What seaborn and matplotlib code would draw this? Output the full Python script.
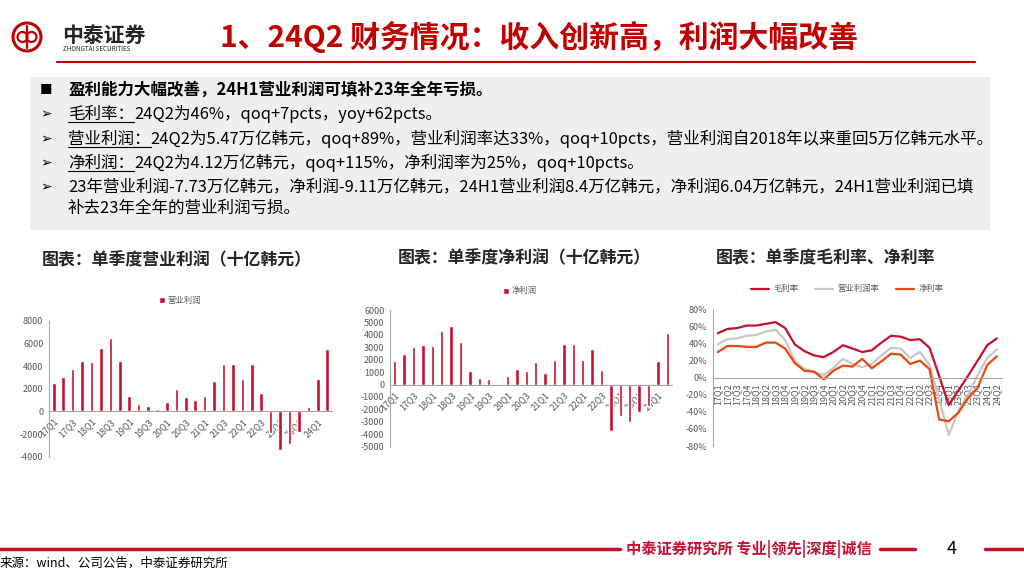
# 24Q2 财务情况 幻灯片：单季度营业利润 / 净利润 / 利润率
import pandas as pd
import matplotlib
matplotlib.use('Agg')
import matplotlib.pyplot as plt
import seaborn as sns
from matplotlib.patches import Rectangle, Ellipse
from matplotlib.lines import Line2D

# 数据（十亿韩元 / %）
quarters = ['17Q1', '17Q2', '17Q3', '17Q4', '18Q1', '18Q2', '18Q3', '18Q4',
            '19Q1', '19Q2', '19Q3', '19Q4', '20Q1', '20Q2', '20Q3', '20Q4',
            '21Q1', '21Q2', '21Q3', '21Q4', '22Q1', '22Q2', '22Q3', '22Q4',
            '23Q1', '23Q2', '23Q3', '23Q4', '24Q1', '24Q2']
op_profit = [2470, 3050, 3730, 4470, 4360, 5570, 6470, 4430,
             1360, 640, 470, 240, 800, 1950, 1300, 970,
             1340, 2670, 4150, 4220, 2860, 4190, 1660, -1890,
             -3400, -2880, -1800, 350, 2890, 5470]
net_profit = [1900, 2480, 3050, 3220, 3120, 4350, 4700, 3400,
              1110, 540, 480, -120, 650, 1290, 1080, 1780,
              970, 2000, 3300, 3300, 1980, 2900, 1140, -3700,
              -2560, -2980, -2170, -1720, 1900, 4120]
gross_margin = [52, 57, 58, 61, 61, 63, 65, 58, 39, 31, 26, 24, 30, 38, 34, 30,
                32, 41, 49, 48, 44, 45, 35, 2, -32, -15, 2, 20, 38, 46]
op_margin = [39, 45, 46, 49, 50, 54, 56, 44, 20, 10, 7, 3, 11, 22, 16, 12,
             16, 26, 35, 34, 23, 30, 15, -25, -67, -39, -20, 3, 23, 33]
net_margin = [30, 37, 37, 36, 36, 41, 41, 34, 17, 8, 7, -2, 8, 14, 13, 22,
              11, 19, 28, 27, 16, 20, 10, -49, -51, -41, -24, -12, 15, 25]

RED = '#C8102E'
TITLE_RED = '#C00000'
GRAY_TXT = '#595959'
AX_GRAY = '#A6A6A6'

sns.set_theme(style='white')
plt.rcParams['font.family'] = ['Noto Sans CJK SC', 'DejaVu Sans']
plt.rcParams['axes.unicode_minus'] = False

W, H = 1024, 576
fig = plt.figure(figsize=(10.24, 5.76), dpi=100)


def P(x, y):
    return x / W, 1 - y / H


def ax_box(l, t, r, b):
    return [l / W, 1 - b / H, (r - l) / W, (b - t) / H]


def ring(cx, cy, r, lw):
    fig.patches.append(Ellipse(P(cx, cy), 2 * r / W, 2 * r / H, transform=fig.transFigure,
                               fill=False, ec=TITLE_RED, lw=lw))


# ---------- 页眉 ----------
ring(27, 37, 14, 2.2)
ring(22.5, 37, 5, 1.6)
ring(31.5, 37, 5, 1.6)
fig.add_artist(Line2D([27 / W, 27 / W], [1 - 26 / H, 1 - 48 / H], color=TITLE_RED, lw=1.6))
fig.text(*P(62, 35), '中泰证券', fontsize=15, fontweight='bold', color='#222222', va='center')
fig.text(*P(63, 49), 'ZHONGTAI SECURITIES', fontsize=4.5, color='#222222', va='center')
fig.text(*P(220, 37), '1、24Q2 财务情况：收入创新高，利润大幅改善', fontsize=21.5,
         fontweight='bold', color=TITLE_RED, va='center')
fig.add_artist(Line2D([57 / W, 975 / W], [1 - 62 / H] * 2, color=TITLE_RED, lw=1.5))

# ---------- 文字框 ----------
fig.patches.append(Rectangle(P(30, 230), 960 / W, 153 / H, transform=fig.transFigure,
                             fc='#EFEFEF', ec='none', zorder=0))

renderer = fig.canvas.get_renderer()
BODY = 11.9


def seg_text(x, y, parts, bold=False):
    for s, under in parts:
        t = fig.text(*P(x, y), s, fontsize=BODY, va='center', color='black',
                     fontweight='bold' if bold else 'normal')
        bb = t.get_window_extent(renderer)
        if under:
            yy = bb.y0 / fig.bbox.height + 0.001
            fig.add_artist(Line2D([bb.x0 / fig.bbox.width, bb.x1 / fig.bbox.width],
                                  [yy, yy], color='black', lw=0.8))
        x = bb.x1 * W / fig.bbox.width


fig.text(*P(40, 90), '■', fontsize=9, va='center', color='black')
seg_text(68, 90, [('盈利能力大幅改善，24H1营业利润可填补23年全年亏损。', False)], bold=True)
for yy in [114, 139, 163, 187]:
    fig.text(*P(40, yy), '➢', fontsize=10, va='center', color='black', family='DejaVu Sans')
seg_text(68, 114, [('毛利率：', True), ('24Q2为46%，qoq+7pcts，yoy+62pcts。', False)])
seg_text(68, 139, [('营业利润：', True),
                   ('24Q2为5.47万亿韩元，qoq+89%，营业利润率达33%，qoq+10pcts，营业利润自2018年以来重回5万亿韩元水平。', False)])
seg_text(68, 163, [('净利润：', True), ('24Q2为4.12万亿韩元，qoq+115%，净利润率为25%，qoq+10pcts。', False)])
seg_text(68, 187, [('23年营业利润-7.73万亿韩元，净利润-9.11万亿韩元，24H1营业利润8.4万亿韩元，净利润6.04万亿韩元，24H1营业利润已填', False)])
seg_text(68, 208, [('补去23年全年的营业利润亏损。', False)])

# ---------- 图表标题 ----------
fig.text(*P(42, 260), '图表：单季度营业利润（十亿韩元）', fontsize=12.2, fontweight='bold', va='center')
fig.text(*P(398, 258), '图表：单季度净利润（十亿韩元）', fontsize=12.2, fontweight='bold', va='center')
fig.text(*P(716, 258), '图表：单季度毛利率、净利率', fontsize=12.2, fontweight='bold', va='center')

df = pd.DataFrame({'季度': quarters, '营业利润': op_profit, '净利润': net_profit})


def style_axis(ax):
    for s in ['top', 'right']:
        ax.spines[s].set_visible(False)
    ax.spines['left'].set_color(AX_GRAY)
    ax.spines['bottom'].set_color(AX_GRAY)
    ax.spines['left'].set_linewidth(0.8)
    ax.spines['bottom'].set_linewidth(0.8)
    ax.spines['bottom'].set_position(('data', 0))
    ax.tick_params(axis='both', labelsize=6.5, labelcolor=GRAY_TXT, colors=AX_GRAY,
                   length=2.5, width=0.6, pad=1.5)
    ax.tick_params(axis='y', labelcolor=GRAY_TXT)
    ax.set_xlabel('')
    ax.set_ylabel('')
    ax.set_facecolor('none')


def bar_chart(ax, col, ylim, step, leg_xy):
    sns.barplot(data=df, x='季度', y=col, color=RED, width=0.38, ax=ax,
                saturation=1, label=col)
    style_axis(ax)
    ax.set_ylim(*ylim)
    ax.set_yticks(range(ylim[0], ylim[1] + 1, step))
    ax.set_xlim(-0.5, len(quarters) - 0.5)
    ax.set_xticks(range(len(quarters)))
    ax.set_xticklabels([q if i % 2 == 0 else '' for i, q in enumerate(quarters)],
                       rotation=45, ha='right', rotation_mode='anchor', color=GRAY_TXT)
    ax.legend(loc='center', bbox_to_anchor=P(*leg_xy), bbox_transform=fig.transFigure,
              frameon=False, fontsize=6, handlelength=0.7, handleheight=0.7,
              labelcolor=GRAY_TXT, handletextpad=0.3)


ax1 = fig.add_axes(ax_box(49, 320.7, 332, 456.7))
bar_chart(ax1, '营业利润', (-4000, 8000), 2000, (180, 300))

ax2 = fig.add_axes(ax_box(390, 310, 672, 446.7))
bar_chart(ax2, '净利润', (-5000, 6000), 1000, (520, 291))

# ---------- 利润率折线 ----------
df_m = pd.DataFrame({'季度': quarters * 3,
                     '比率': gross_margin + op_margin + net_margin,
                     '指标': ['毛利率'] * 30 + ['营业利润率'] * 30 + ['净利率'] * 30})
ax3 = fig.add_axes(ax_box(713, 309.3, 1001.7, 446))
sns.lineplot(data=df_m, x='季度', y='比率', hue='指标', sort=False, ax=ax3,
             palette={'毛利率': RED, '营业利润率': '#C8C8C8', '净利率': '#E8490F'},
             linewidth=1.6)
style_axis(ax3)
ax3.set_ylim(-80, 80)
ax3.set_yticks(range(-80, 81, 20))
ax3.set_yticklabels([f'{v}%' for v in range(-80, 81, 20)])
ax3.set_xlim(-0.5, len(quarters) - 0.5)
ax3.set_xticks(range(len(quarters)))
ax3.set_xticklabels(quarters, rotation=90, ha='center', va='top', color=GRAY_TXT)
ax3.legend(loc='center', bbox_to_anchor=P(847, 289), bbox_transform=fig.transFigure,
           ncol=3, frameon=False, fontsize=6, handlelength=2.2, labelcolor=GRAY_TXT,
           columnspacing=2.0, handletextpad=0.5, title=None)

# ---------- 页脚 ----------
fig.add_artist(Line2D([0, 620 / W], [1 - 549 / H] * 2, color=RED, lw=2.5))
fig.text(*P(626, 549), '中泰证券研究所 专业|领先|深度|诚信', fontsize=11, fontweight='bold',
         color=RED, va='center')
fig.add_artist(Line2D([880 / W, 915 / W], [1 - 549 / H] * 2, color=RED, lw=2.5))
fig.text(*P(952, 549), '4', fontsize=13, color='black', va='center', ha='center')
fig.add_artist(Line2D([985 / W, 1.0], [1 - 549 / H] * 2, color=RED, lw=2.5))
fig.text(*P(0, 563), '来源：wind、公司公告，中泰证券研究所', fontsize=9, color='black', va='center')

fig.savefig('out.png', dpi=100)
